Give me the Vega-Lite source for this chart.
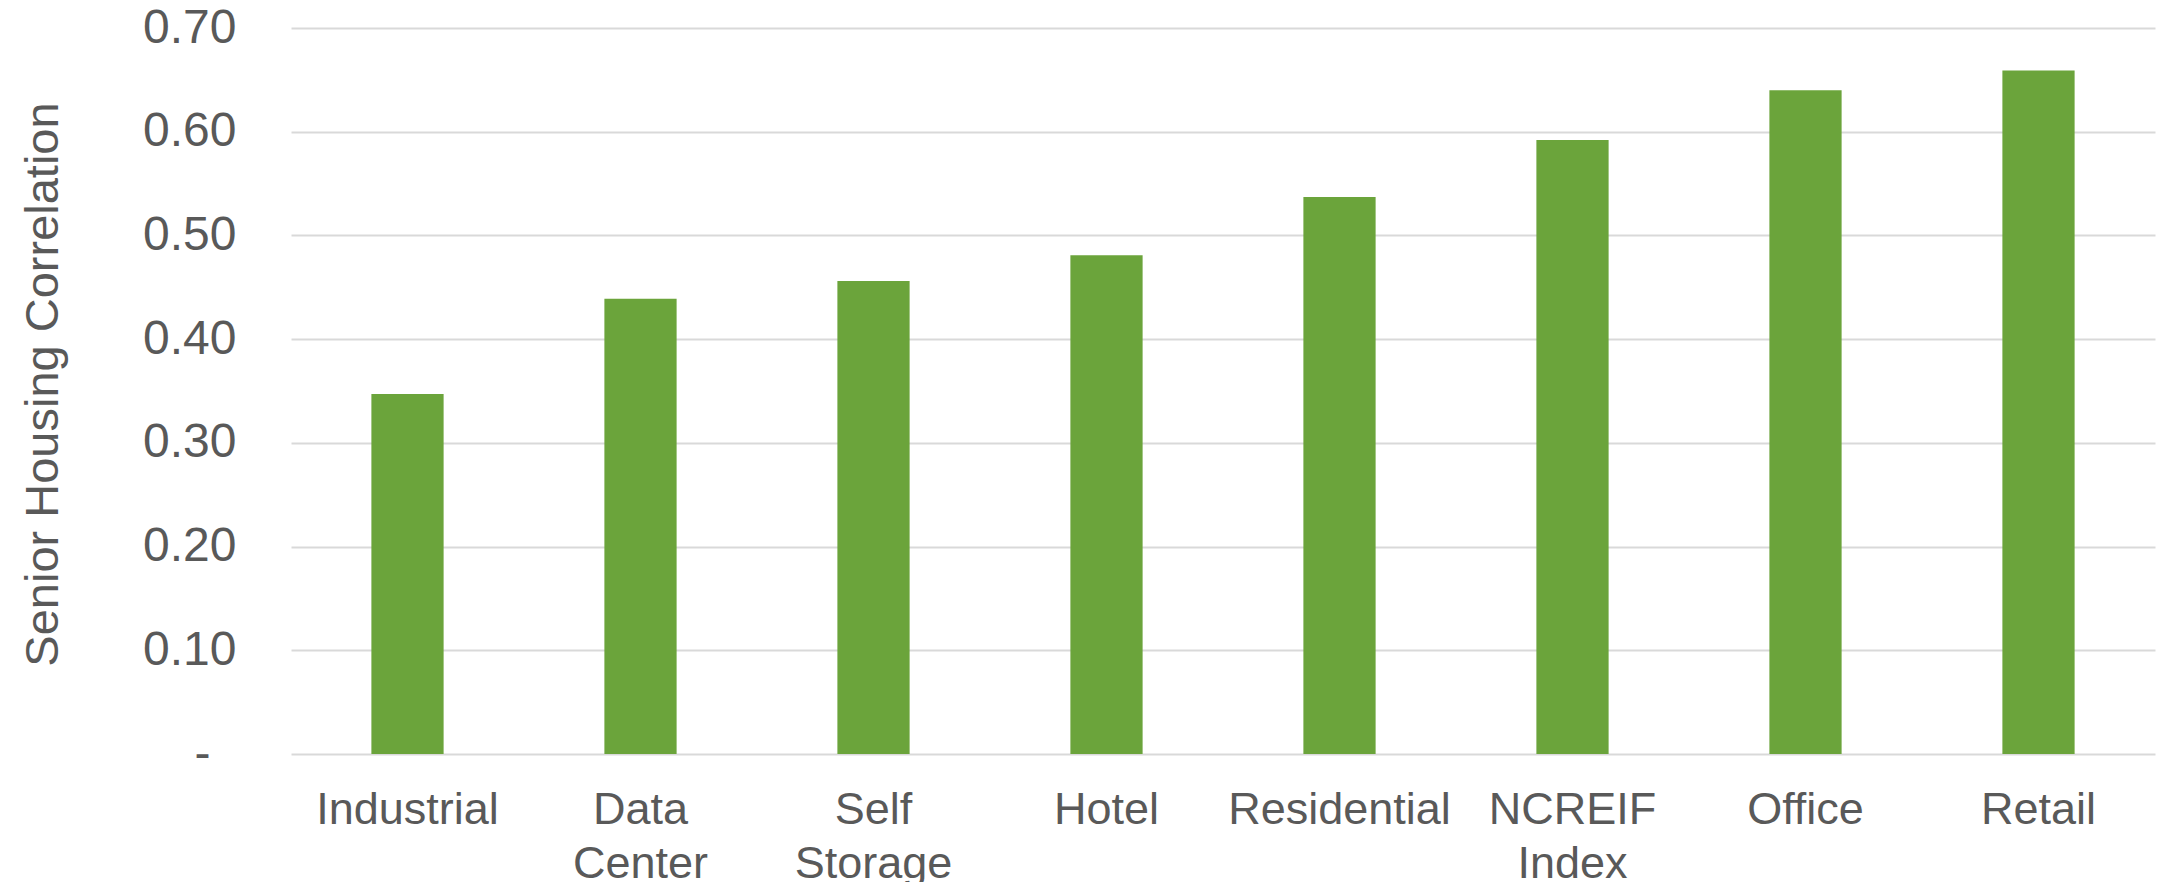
{
  "$schema": "https://vega.github.io/schema/vega-lite/v6.json",
  "width": 1864,
  "height": 726,
  "autosize": {"type": "none"},
  "padding": {"left": 291, "top": 28, "right": 3, "bottom": 128},
  "background": "#ffffff",
  "config": {
    "view": {"stroke": null},
    "font": "Liberation Sans"
  },
  "data": {
    "values": [
      {"sector": "Industrial", "corr": 0.347},
      {"sector": "Data Center", "corr": 0.439},
      {"sector": "Self Storage", "corr": 0.456},
      {"sector": "Hotel", "corr": 0.481},
      {"sector": "Residential", "corr": 0.537},
      {"sector": "NCREIF Index", "corr": 0.592},
      {"sector": "Office", "corr": 0.640},
      {"sector": "Retail", "corr": 0.659}
    ]
  },
  "mark": {"type": "bar", "color": "#6BA43B"},
  "encoding": {
    "x": {
      "field": "sector",
      "type": "nominal",
      "sort": null,
      "scale": {"paddingInner": 0.69, "paddingOuter": 0.345},
      "axis": {
        "title": null,
        "labelAngle": 0,
        "labelFont": "Liberation Sans",
        "labelFontSize": 45,
        "labelColor": "#595959",
        "labelPadding": 33,
        "labelLineHeight": 54,
        "labelLimit": 0,
        "labelExpr": "split(datum.label, ' ')",
        "ticks": false,
        "domain": false,
        "grid": false
      }
    },
    "y": {
      "field": "corr",
      "type": "quantitative",
      "scale": {"domain": [0, 0.7], "nice": false, "zero": true},
      "axis": {
        "title": "Senior Housing Correlation",
        "titleFont": "Liberation Sans",
        "titleFontSize": 47,
        "titleFontWeight": "normal",
        "titleColor": "#595959",
        "titleAngle": -90,
        "titleAlign": "center",
        "titleBaseline": "alphabetic",
        "titleX": -234,
        "titleY": 356,
        "values": [0, 0.1, 0.2, 0.3, 0.4, 0.5, 0.6, 0.7],
        "labelExpr": "datum.value == 0 ? '-' : format(datum.value, '.2f')",
        "labelFont": "Liberation Sans",
        "labelFontSize": 48,
        "labelColor": "#595959",
        "labelPadding": {"condition": {"test": "datum.value == 0", "value": 81}, "value": 55},
        "labelLimit": 0,
        "ticks": false,
        "domain": false,
        "grid": true,
        "gridColor": "#D9D9D9",
        "gridWidth": 2
      }
    }
  }
}
